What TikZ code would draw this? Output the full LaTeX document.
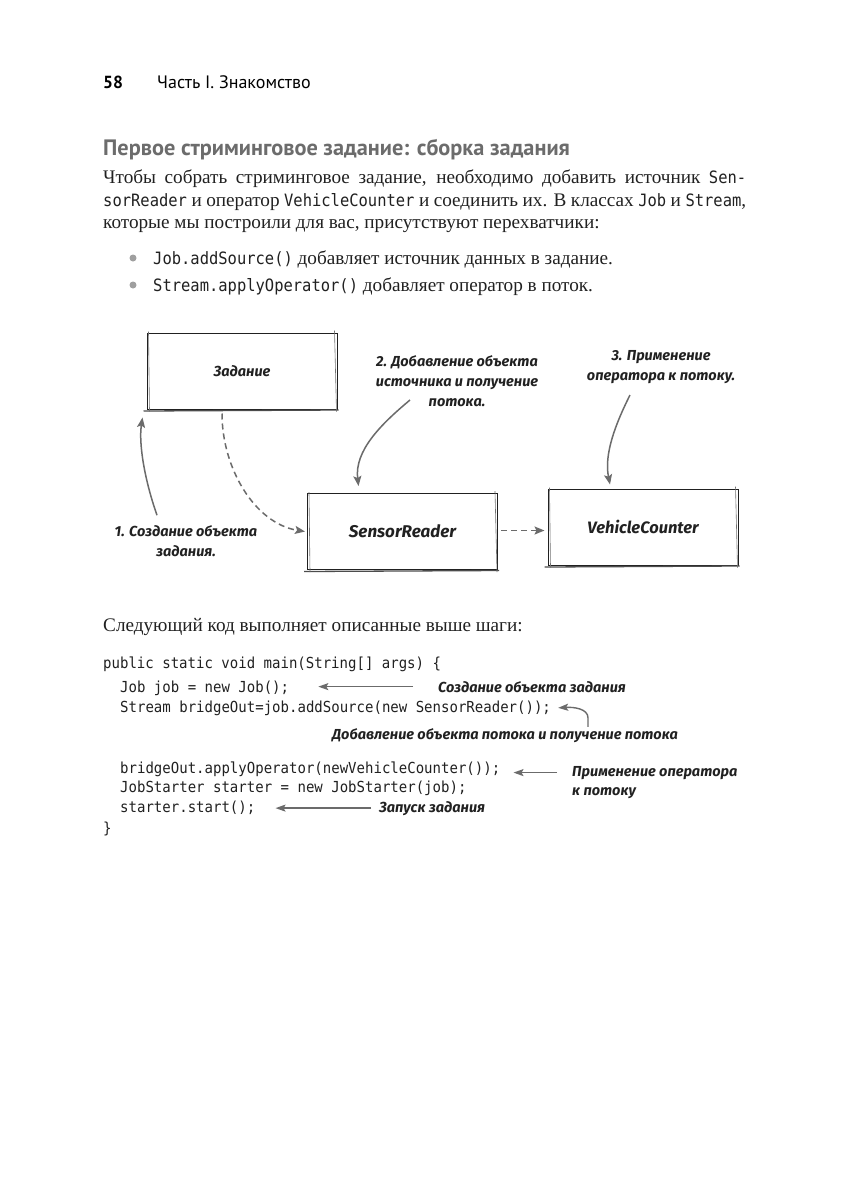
\documentclass[tikz,border=0pt]{standalone}
\usepackage{fontspec}
\setmainfont{Liberation Serif}
\newfontfamily\headfont{PT Sans}
\newfontfamily\icodefont[FakeStretch=0.91]{DejaVu Sans Mono}
\newfontfamily\codefont[FakeStretch=0.923]{DejaVu Sans Mono}
\newfontfamily\handfont{Fira Sans}
\usetikzlibrary{arrows.meta}
\definecolor{arrgray}{gray}{0.42}
\definecolor{inkc}{gray}{0.13}
\newcommand{\ic}[1]{{\icodefont\fontsize{17}{18}\selectfont #1}}
\newcommand{\handtxt}{\handfont\bfseries\itshape\fontsize{14.5}{20}\selectfont}
\begin{document}
\begin{tikzpicture}[x=1pt,y=-1pt,
  txt/.style={inner sep=0pt, anchor=base west, text=inkc},
  body/.style={txt, font=\fontsize{19.2}{22}\selectfont},
  code/.style={txt, font=\codefont\fontsize{15.2}{20}\selectfont},
  hand/.style={inner sep=0pt, text=inkc, font=\handtxt},
  box/.style={draw=inkc, line width=1pt, minimum width=190pt, minimum height=76pt, inner sep=0pt, text=inkc},
  arr/.style={draw=arrgray, line width=1.5pt, -{Stealth[length=10pt,width=8pt,inset=2pt]}},
  darr/.style={arr, dash pattern=on 6pt off 4pt},
  carr/.style={draw=arrgray, line width=1.4pt, -{Stealth[length=10pt,width=7pt,inset=2pt]}},
  bullet/.style={circle, fill=gray!75, inner sep=0pt, minimum size=7pt}
]
\useasboundingbox[fill=white] (0,0) rectangle (849,1200);

% header
\node[txt, text=black, font=\headfont\bfseries\fontsize{17.5}{20}\selectfont] (pnum) at (103,88) {58};
\node[txt, text=black, font=\headfont\fontsize{18}{20}\selectfont] (part) at (157,88) {Часть I. Знакомство};
\node[txt, text=gray!85!black, font=\headfont\bfseries\fontsize{22.3}{24}\selectfont] (head) at (103,155) {Первое стриминговое задание: сборка задания};

% body text
\node[body] (b1) at (103,183) {\makebox[643pt][s]{Чтобы собрать стриминговое задание, необходимо добавить источник \ic{Sen-}}};
\node[body] (b2) at (103,206) {\makebox[643pt][s]{\ic{sorReader} и оператор \ic{VehicleCounter} и соединить их. В классах \ic{Job} и \ic{Stream},}};
\node[body] (b3) at (103,228) {которые мы построили для вас, присутствуют перехватчики:};

\node[bullet] (bul1) at (133,258) {};
\node[body] (l1) at (153,264) {\ic{Job.addSource()} добавляет источник данных в задание.};
\node[bullet] (bul2) at (133,285) {};
\node[body] (l2) at (153,291) {\ic{Stream.applyOperator()} добавляет оператор в поток.};

% diagram
\node[box, font=\handtxt] (job) at (242,371) {Задание};
\node[box, font=\handfont\bfseries\itshape\fontsize{17}{20}\selectfont] (sr) at (402.5,531.5) {SensorReader};
\node[box, font=\handfont\bfseries\itshape\fontsize{16.5}{20}\selectfont] (vc) at (643,527) {VehicleCounter};
\foreach \n in {job,sr,vc} {
  \draw[black!70, line width=1.3pt] ([shift={(-3,1.5)}]\n.south west) -- ([shift={(1,0.5)}]\n.south east);
  \draw[black!55, line width=0.6pt] ([shift={(-3,-2)}]\n.north east) -- ([shift={(-1,2)}]\n.south east);
  \draw[black!55, line width=0.6pt] ([shift={(2,-1)}]\n.north west) -- ([shift={(3,2)}]\n.south west);
}

\node[hand, align=center] (lbl2) at (457,381) {2. Добавление объекта\\источника и получение\\потока.};
\node[hand, align=center] (lbl3) at (661,367) {3. Применение\\оператора к потоку.};
\node[hand, align=center] (lbl1) at (186,541) {1. Создание объекта\\задания.};

\draw[arr] ([shift={(-29,-10)}]lbl1.north) .. controls +(-12,-34) and +(-4,27) .. ([shift={(-4,8)}]job.south west);
\draw[darr] ([shift={(-20,4)}]job.south) .. controls +(0,55) and +(-50,-8) .. ([xshift=-2pt]sr.west);
\draw[arr] ([shift={(-47,19)}]lbl2.center) .. controls +(-30,25) and +(-4,-35) .. ([shift={(-44,-7)}]sr.north);
\draw[arr] ([shift={(-31,28)}]lbl3.center) .. controls +(-15,30) and +(-6,-30) .. ([shift={(-33,-4)}]vc.north);
\draw[darr, shorten <=3pt, shorten >=3pt] ([yshift=1pt]sr.east) -- ([yshift=1pt]sr.east -| vc.west);

% code
\node[body] (intro) at (103,631) {Следующий код выполняет описанные выше шаги:};
\node[code] (c1) at (103,668) {public static void main(String[] args) \{};
\node[code] (c2) at (120,692) {Job job = new Job();};
\node[code] (c3) at (120,712) {Stream bridgeOut=job.addSource(new SensorReader());};
\node[code] (c4) at (120,773) {bridgeOut.applyOperator(newVehicleCounter());};
\node[code] (c5) at (120,792) {JobStarter starter = new JobStarter(job);};
\node[code] (c6) at (120,812) {starter.start();};
\node[code] (c7) at (103,833) {\}};

\node[hand, anchor=base west] (a1) at (438,692) {Создание объекта задания};
\node[hand, anchor=base west] (a2) at (332,739) {Добавление объекта потока и получение потока};
\node[hand, anchor=base west] (a3) at (572,776) {Применение оператора};
\node[hand, anchor=base west] (a3b) at (572,795) {к потоку};
\node[hand, anchor=base west] (a4) at (379,812) {Запуск задания};

\draw[carr] ([xshift=-25pt]a1.west) -- ([xshift=29pt]a1.west -| c2.east);
\draw[carr] ([shift={(256,-1)}]a2.north west) -- ++(0,-9) .. controls +(0,-9) and +(16,-1) .. ([xshift=7pt]c3.east);
\draw[carr] ([xshift=-15pt]a3.west) -- ([xshift=13pt]a3.west -| c4.east);
\draw[carr] ([xshift=-8pt]a4.west) -- ([xshift=20pt]a4.west -| c6.east);
\end{tikzpicture}
\end{document}
